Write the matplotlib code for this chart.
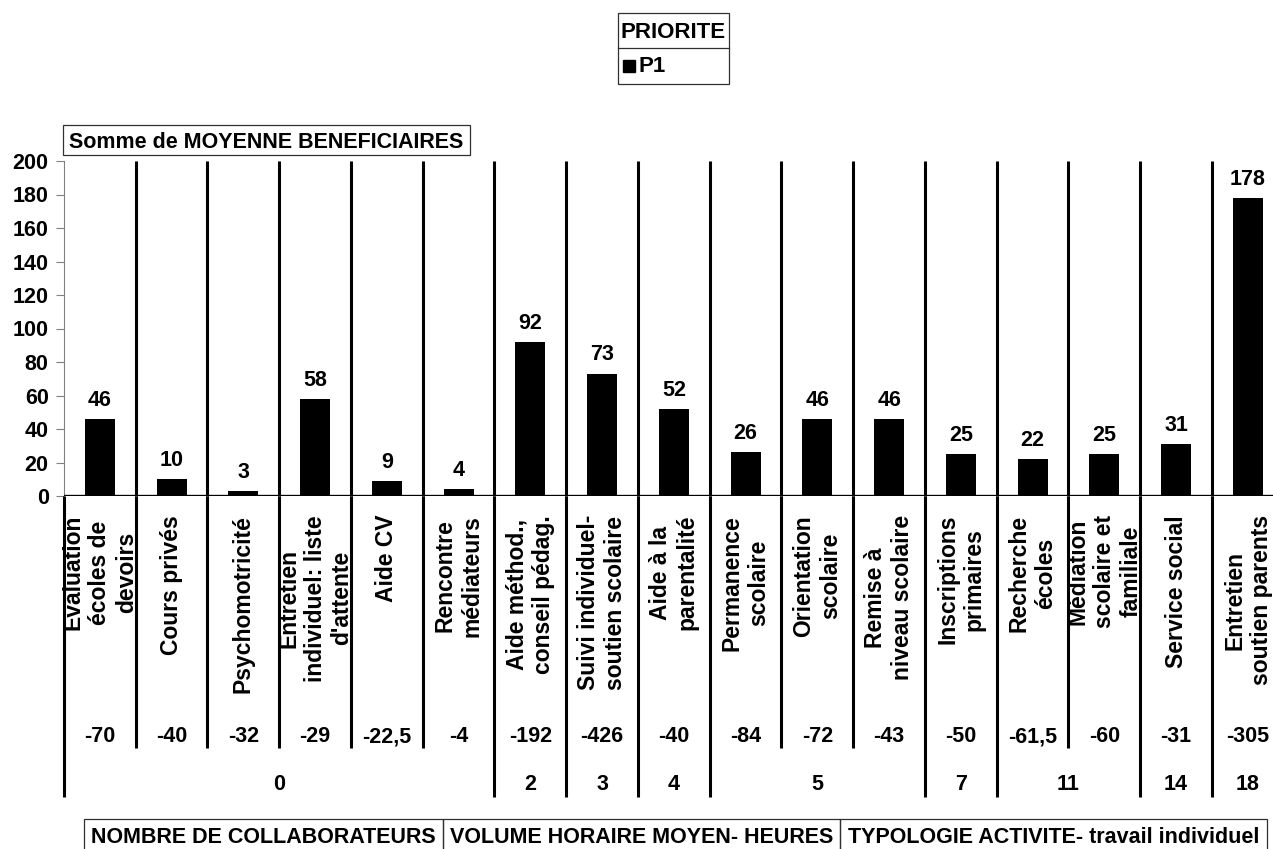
import matplotlib
matplotlib.use('Agg')
import matplotlib.pyplot as plt
from matplotlib.patches import Rectangle
from matplotlib.lines import Line2D
from matplotlib.transforms import blended_transform_factory

plt.rcParams['font.family'] = ['Liberation Sans', 'DejaVu Sans']
plt.rcParams['font.weight'] = 'bold'

# TYPOLOGIE ACTIVITE - travail individuel
activites = [
    "Evaluation\nécoles de\ndevoirs",
    "Cours privés",
    "Psychomotricité",
    "Entretien\nindividuel: liste\nd'attente",
    "Aide CV",
    "Rencontre\nmédiateurs",
    "Aide méthod.,\nconseil pédag.",
    "Suivi individuel-\nsoutien scolaire",
    "Aide à la\nparentalité",
    "Permanence\nscolaire",
    "Orientation\nscolaire",
    "Remise à\nniveau scolaire",
    "Inscriptions\nprimaires",
    "Recherche\nécoles",
    "Médiation\nscolaire et\nfamiliale",
    "Service social",
    "Entretien\nsoutien parents",
]
# Somme de MOYENNE BENEFICIAIRES
beneficiaires = [46, 10, 3, 58, 9, 4, 92, 73, 52, 26, 46, 46, 25, 22, 25, 31, 178]
# VOLUME HORAIRE MOYEN- HEURES
volume_horaire = [-70, -40, -32, -29, -22.5, -4, -192, -426, -40, -84, -72, -43,
                  -50, -61.5, -60, -31, -305]
# NOMBRE DE COLLABORATEURS (value, number of activities in the group)
collaborateurs = [0, 2, 3, 4, 5, 7, 11, 14, 18]
taille_groupes = [6, 1, 1, 1, 3, 1, 2, 1, 1]

W, H = 1273, 849


def fx(px):
    return px / W


def fy(py):
    return 1 - py / H


fig = plt.figure(figsize=(W / 100, H / 100), dpi=100)
ax = fig.add_axes([fx(64), fy(496), (1283.7 - 64) / W, (496 - 161) / H])

x = list(range(len(activites)))
bars = ax.bar(x, beneficiaires, width=0.42, color='black', zorder=2)
ax.bar_label(bars, padding=6, fontsize=15.5, fontweight='bold')

ax.set_xlim(-0.5, len(activites) - 0.5)
ax.set_ylim(0, 200)
ax.set_yticks(range(0, 201, 20))
ax.set_xticks([])
ax.tick_params(axis='y', length=6, width=0.8, color='#808080', pad=5, labelsize=15.5)
for s in ['top', 'right', 'bottom']:
    ax.spines[s].set_visible(False)
ax.spines['left'].set_color('#808080')
ax.spines['left'].set_linewidth(0.8)
ax.axhline(0, color='black', lw=2.4, zorder=4)

# vertical separators inside the plot
for i in range(len(activites) - 1):
    ax.plot([i + 0.5, i + 0.5], [0, 200], color='black', lw=2.2,
            solid_capstyle='butt', zorder=3, clip_on=False)

# multi-level category axis below the plot
trans = blended_transform_factory(ax.transData, fig.transFigure)
bornes = [-0.5]
for n in taille_groupes:
    bornes.append(bornes[-1] + n)
for i in range(len(activites) + 1):
    b = i - 0.5
    bas = 797 if b in bornes else 748
    ax.add_line(Line2D([b, b], [fy(496), fy(bas)], transform=trans, color='black',
                       lw=2.2, solid_capstyle='butt', zorder=3, clip_on=False))

for i, lab in enumerate(activites):
    ax.text(i, fy(515), lab, transform=trans, rotation=90, ha='center', va='top',
            multialignment='center', fontsize=16.5, fontweight='bold', zorder=1,
            clip_on=False)
    ax.text(i, fy(742), '{:g}'.format(volume_horaire[i]).replace('.', ','),
            transform=trans, ha='center', va='baseline', fontsize=15.5,
            fontweight='bold', clip_on=False)

for c, a, b in zip(collaborateurs, bornes[:-1], bornes[1:]):
    ax.text((a + b) / 2, fy(790), str(c), transform=trans, ha='center',
            va='baseline', fontsize=15.5, fontweight='bold', clip_on=False)


def boite(x0, y0, x1, y1, texte, base, size=15.5):
    fig.add_artist(Rectangle((fx(x0), fy(y1)), fx(x1) - fx(x0), fy(y0) - fy(y1),
                             transform=fig.transFigure, fill=False, lw=0.9,
                             ec='#303030'))
    fig.text(fx((x0 + x1) / 2), fy(base), texte, ha='center', va='baseline',
             fontsize=size, fontweight='bold')


boite(63, 125, 470, 155, "Somme de MOYENNE BENEFICIAIRES", 148)
boite(84, 819, 443, 852, "NOMBRE DE COLLABORATEURS", 843)
boite(443, 819, 840, 852, "VOLUME HORAIRE MOYEN- HEURES", 843)
boite(840, 819, 1267, 852, "TYPOLOGIE ACTIVITE- travail individuel", 843)

# legend box
fig.add_artist(Rectangle((fx(618), fy(84)), fx(729) - fx(618), fy(13) - fy(84),
                         transform=fig.transFigure, fill=False, lw=0.9, ec='#303030'))
fig.add_artist(Line2D([fx(618), fx(729)], [fy(48), fy(48)], transform=fig.transFigure,
                      lw=0.9, color='#303030'))
fig.text(fx(673.5), fy(38), "PRIORITE", ha='center', va='baseline', fontsize=16,
         fontweight='bold')
fig.add_artist(Rectangle((fx(623), fy(72)), fx(635) - fx(623), fy(60) - fy(72),
                         transform=fig.transFigure, color='black'))
fig.text(fx(639), fy(72), "P1", ha='left', va='baseline', fontsize=16,
         fontweight='bold')

fig.savefig('out.png', dpi=100)
